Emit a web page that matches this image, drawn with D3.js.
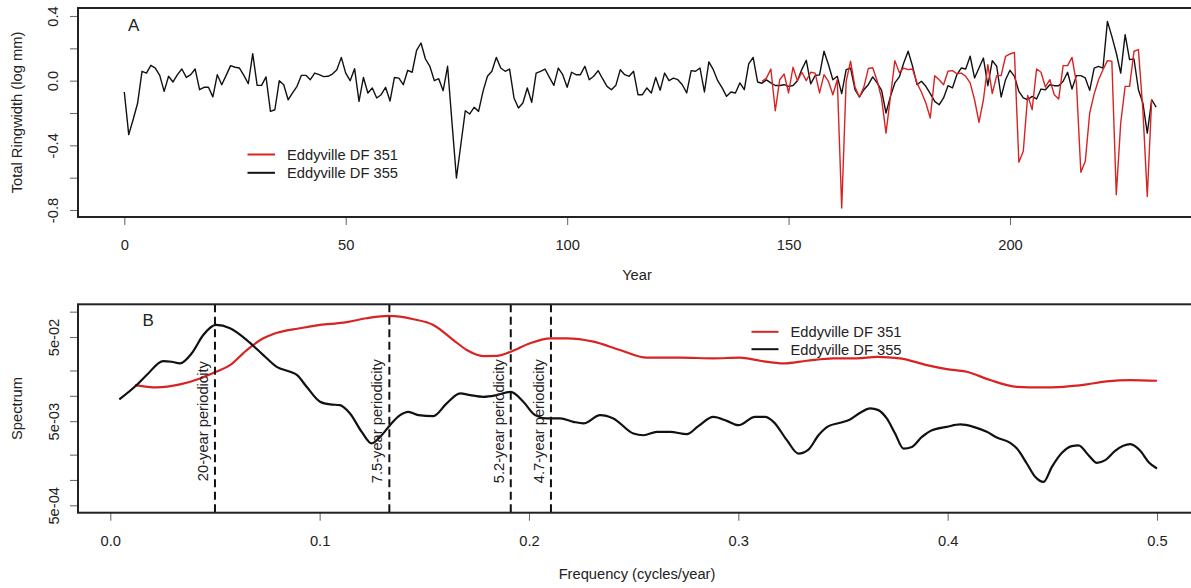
<!DOCTYPE html>
<html>
<head>
<meta charset="utf-8">
<script src="https://cdn.jsdelivr.net/npm/d3@7"></script>
<style>
  html, body { margin: 0; padding: 0; background: #fff; }
  svg text { font-family: "Liberation Sans", Arial, sans-serif; fill: #222; }
</style>
</head>
<body>
<svg id="chart" width="1191" height="588"></svg>
<script>
// ---- Panel A: total ring width (log mm) per year ----
const seriesNames = ["Eddyville DF 351", "Eddyville DF 355"];

// Eddyville DF 355, years 0..233
const ring355 = [
  -0.07, -0.334, -0.24, -0.14, 0.058, 0.047, 0.095, 0.078, 0.033, -0.066,
  0.027, -0.008, 0.037, 0.072, 0.02, 0.037, 0.072, -0.056, -0.041, -0.041,
  -0.10, 0.037, -0.025, 0.033, 0.093, 0.083, 0.078, 0.033, -0.019, 0.167,
  -0.029, -0.029, 0.023, -0.19, -0.18, 0.0, -0.025, -0.118, -0.076, -0.035,
  0.033, 0.033, 0.006, 0.047, 0.037, 0.025, 0.027, 0.041, 0.068, 0.144,
  0.047, 0.0, 0.074, -0.128, 0.02, -0.076, -0.045, -0.107, -0.087, -0.041,
  -0.126, 0.02, 0.016, -0.025, 0.064, 0.052, 0.188, 0.233, 0.134, 0.089,
  0.0, 0.012, -0.062, 0.089, -0.26, -0.602, -0.395, -0.186, -0.206, -0.165,
  -0.19, -0.066, 0.027, 0.058, 0.144, 0.078, 0.058, 0.072, -0.107, -0.169,
  -0.138, -0.045, -0.134, 0.047, 0.058, 0.072, 0.02, -0.029, 0.078, 0.037,
  -0.041, 0.052, 0.037, 0.037, 0.089, 0.006, 0.027, 0.062, 0.012, -0.035,
  -0.056, -0.029, 0.068, 0.037, 0.027, 0.058, -0.087, -0.087, -0.045, -0.076,
  0.02, -0.059, 0.047, 0.0, 0.016, 0.006, -0.025, -0.076, 0.062, 0.058,
  0.078, -0.07, 0.116, 0.068, 0.0, -0.045, -0.097, -0.07, -0.076, -0.014,
  -0.056, 0.104, 0.144, -0.008, -0.016, 0.005, -0.014, -0.03, -0.03, -0.025,
  -0.035, -0.03, 0.0, 0.07, 0.126, -0.02, 0.032, 0.036, 0.182, 0.1,
  0.006, 0.027, -0.08, 0.068, 0.078, -0.056, -0.101, -0.056, -0.025, 0.023,
  -0.014, -0.06, -0.2, -0.097, -0.014, 0.023, 0.109, 0.182, 0.089, -0.025,
  -0.004, -0.035, -0.08, -0.128, -0.149, -0.107, -0.031, -0.045, 0.037, 0.078,
  0.072, 0.151, 0.017, 0.078, 0.14, -0.031, 0.124, 0.089, -0.101, 0.006,
  0.064, 0.027, -0.066, -0.107, -0.118, -0.097, -0.113, -0.052, -0.056, -0.025,
  -0.031, -0.031, -0.004, 0.052, -0.052, 0.031, 0.031, 0.017, -0.06, 0.078,
  0.089, 0.078, 0.367, 0.274, 0.171, 0.047, 0.285, 0.13, 0.134, -0.056,
  -0.138, -0.324, -0.118, -0.163
];
const ring355Start = 0;

// Eddyville DF 351, years 144..232
const ring351 = [
  -0.004, 0.016, 0.072, -0.186, 0.006, 0.041, -0.076, 0.083, 0.0, 0.052,
  0.0, 0.052, 0.047, -0.076, 0.037, -0.004, -0.087, 0.006, -0.788, -0.004,
  0.12, -0.039, -0.102, -0.04, 0.075, 0.08, 0.0, -0.11, -0.324, -0.1,
  0.124, 0.05, 0.078, 0.068, 0.072, -0.014, -0.072, -0.138, -0.231, 0.031,
  0.006, -0.025, 0.058, 0.062, 0.043, 0.047, 0.027, -0.014, -0.118, -0.258,
  -0.118, 0.099, -0.08, 0.031, 0.031, 0.151, 0.165, 0.175, -0.505, -0.437,
  -0.091, -0.179, 0.072, 0.052, -0.039, 0.006, -0.087, -0.113, 0.093, 0.093,
  0.144, -0.014, -0.567, -0.499, -0.2, -0.083, 0.006, 0.068, 0.124, 0.12,
  -0.705, -0.262, -0.035, -0.035, 0.182, 0.192, -0.179, -0.716, -0.113
];
const ring351Start = 144;

const yearTicks = [0, 50, 100, 150, 200];
const ringTicks = [-0.8, -0.6, -0.4, -0.2, 0.0, 0.2, 0.4];
const ringLabelled = [-0.8, -0.4, 0.0, 0.4];

// ---- Panel B: smoothed spectra, [frequency, spectrum] ----
const spec355 = [
  [0.0043, 0.00906], [0.0126, 0.01343], [0.0174, 0.01766], [0.0253, 0.0259], [0.0293, 0.0254],
  [0.0333, 0.0243], [0.0389, 0.032], [0.0444, 0.0528], [0.0505, 0.0695], [0.0572, 0.0635],
  [0.0652, 0.046], [0.0731, 0.0305], [0.0795, 0.0221], [0.0859, 0.0193], [0.0891, 0.0177],
  [0.0938, 0.0128], [0.1002, 0.0085], [0.105, 0.0079], [0.1097, 0.00776], [0.1145, 0.00617],
  [0.1201, 0.00373], [0.1249, 0.00272], [0.1289, 0.00325], [0.1336, 0.00448], [0.1384, 0.00589],
  [0.1424, 0.00646], [0.1472, 0.00589], [0.1543, 0.00574], [0.1607, 0.00813], [0.1671, 0.0107],
  [0.1719, 0.0102], [0.1782, 0.00973], [0.1846, 0.0102], [0.1913, 0.01117], [0.1973, 0.0085],
  [0.2029, 0.00589], [0.2085, 0.00538], [0.2149, 0.00538], [0.2212, 0.00491], [0.226, 0.0047],
  [0.234, 0.00589], [0.2403, 0.00538], [0.2499, 0.00356], [0.2547, 0.0034], [0.2611, 0.00373],
  [0.2674, 0.00373], [0.2754, 0.0035], [0.2809, 0.00436], [0.2881, 0.00562], [0.2945, 0.00504],
  [0.3, 0.00448], [0.308, 0.00562], [0.3128, 0.00562], [0.3168, 0.00491], [0.3232, 0.00297],
  [0.3287, 0.00206], [0.3335, 0.0023], [0.3383, 0.0034], [0.3431, 0.00436], [0.3486, 0.00478],
  [0.3534, 0.00524], [0.3582, 0.00628], [0.363, 0.00709], [0.3669, 0.00676], [0.3709, 0.00538],
  [0.3749, 0.00356], [0.3789, 0.00236], [0.3829, 0.00247], [0.3877, 0.00325], [0.3925, 0.00391],
  [0.3996, 0.00428], [0.406, 0.00457], [0.4123, 0.00428], [0.4187, 0.00373], [0.4235, 0.0032],
  [0.4299, 0.00276], [0.4331, 0.00236], [0.4378, 0.00157], [0.4418, 0.00109], [0.4458, 0.000947],
  [0.4498, 0.00143], [0.4546, 0.0021], [0.4593, 0.00252], [0.4625, 0.00257], [0.4673, 0.00197],
  [0.4713, 0.0016], [0.4753, 0.00172], [0.48, 0.00222], [0.4872, 0.00266], [0.492, 0.00222],
  [0.4959, 0.00164], [0.5, 0.00137]
];

const spec351 = [
  [0.0118, 0.01343], [0.0222, 0.0126], [0.0333, 0.01367], [0.0429, 0.0161], [0.0505, 0.0193],
  [0.0572, 0.0232], [0.0652, 0.035], [0.0731, 0.0482], [0.0779, 0.0543], [0.0906, 0.0635],
  [0.1002, 0.0695], [0.1113, 0.074], [0.1225, 0.0835], [0.1332, 0.0889], [0.1448, 0.0813],
  [0.1543, 0.0695], [0.1639, 0.046], [0.1703, 0.035], [0.1782, 0.0297], [0.1846, 0.0298],
  [0.1913, 0.0334], [0.2005, 0.0421], [0.2104, 0.0482], [0.218, 0.0482], [0.2308, 0.044],
  [0.2435, 0.035], [0.2563, 0.0284], [0.2722, 0.0284], [0.2881, 0.0279], [0.3009, 0.0284],
  [0.3104, 0.0261], [0.3216, 0.0243], [0.3327, 0.0261], [0.3454, 0.0279], [0.3566, 0.0279],
  [0.3662, 0.0291], [0.3773, 0.0279], [0.39, 0.0232], [0.3996, 0.0208], [0.4092, 0.0193],
  [0.4203, 0.0154], [0.4331, 0.0128], [0.4442, 0.0126], [0.4553, 0.0128], [0.4665, 0.01367],
  [0.476, 0.01485], [0.4872, 0.0154], [0.5, 0.0151]
];

// marked periodicities (frequency in cycles/year, label)
const periodFreqs = [0.05, 0.1333, 0.1913, 0.2105];
const periodLabels = ["20-year periodicity", "7.5-year periodicity", "5.2-year periodicity", "4.7-year periodicity"];

const freqTicks = [0.0, 0.1, 0.2, 0.3, 0.4, 0.5];
const specTicks = [1e-1, 5e-2, 2e-2, 1e-2, 5e-3, 2e-3, 1e-3, 5e-4];
const specLabels = { "0.05": "5e-02", "0.005": "5e-03", "0.0005": "5e-04" };

const colors = { s351: "#d82323", s355: "#111111" };

// ---- drawing ----
const svg = d3.select("#chart");
const FONT = 14.7;

function styleAxis(g) {
  g.select(".domain").remove();
  g.selectAll(".tick line").attr("stroke", "#6e6e6e").attr("stroke-width", 1.1);
  g.selectAll(".tick text").attr("font-size", FONT).attr("fill", "#222")
    .attr("font-family", "'Liberation Sans', Arial, sans-serif");
}

// Panel A geometry
const A = { left: 78, right: 1197, top: 8, bottom: 217 };
const xA = d3.scaleLinear().domain([0, 200]).range([124.3, 1010]);
const yA = d3.scaleLinear().domain([-0.8, 0.4]).range([210, 16]);

const gA = svg.append("g");
gA.append("g")
  .attr("transform", `translate(0,${A.bottom})`)
  .call(d3.axisBottom(xA).tickValues(yearTicks).tickSize(8).tickPadding(14.6).tickFormat(d3.format("d")))
  .call(styleAxis);

gA.append("g")
  .attr("transform", `translate(${A.left},0)`)
  .call(d3.axisLeft(yA).tickValues(ringTicks).tickSize(8)
    .tickFormat(d => ringLabelled.some(v => Math.abs(v - d) < 1e-9) ? d.toFixed(1) : ""))
  .call(styleAxis)
  .call(g => g.selectAll(".tick text")
    .attr("x", null).attr("dy", null).attr("y", null)
    .attr("text-anchor", "middle")
    .attr("transform", "translate(-20.5,0) rotate(-90)"));

const lineA = d3.line().x(d => xA(d[0])).y(d => yA(d[1]));
const pts355 = ring355.map((v, i) => [ring355Start + i, v]);
const pts351 = ring351.map((v, i) => [ring351Start + i, v]);

gA.append("path").datum(pts355).attr("d", lineA)
  .attr("fill", "none").attr("stroke", colors.s355).attr("stroke-width", 1.4).attr("stroke-linejoin", "round");
gA.append("path").datum(pts351).attr("d", lineA)
  .attr("fill", "none").attr("stroke", colors.s351).attr("stroke-width", 1.4).attr("stroke-linejoin", "round");

gA.append("rect").attr("x", A.left).attr("y", A.top)
  .attr("width", A.right - A.left).attr("height", A.bottom - A.top)
  .attr("fill", "none").attr("stroke", "#222").attr("stroke-width", 2);

gA.append("text").attr("x", 128).attr("y", 30.8).attr("font-size", 17).text("A");

// legend A
const legA = [{ name: seriesNames[0], c: colors.s351, y: 154.5 }, { name: seriesNames[1], c: colors.s355, y: 172.8 }];
legA.forEach(d => {
  gA.append("line").attr("x1", 247.5).attr("x2", 275).attr("y1", d.y).attr("y2", d.y)
    .attr("stroke", d.c).attr("stroke-width", 2);
  gA.append("text").attr("x", 287).attr("y", d.y + 5.6).attr("font-size", FONT).text(d.name);
});

gA.append("text").attr("x", 637).attr("y", 280).attr("text-anchor", "middle").attr("font-size", FONT).text("Year");
gA.append("text").attr("transform", `translate(22,${(A.top + A.bottom) / 2}) rotate(-90)`)
  .attr("text-anchor", "middle").attr("font-size", FONT).text("Total Ringwidth (log mm)");

// Panel B geometry
const B = { left: 78, right: 1197, top: 304.3, bottom: 512.7 };
const xB = d3.scaleLinear().domain([0, 0.5]).range([110.3, 1157]);
const yB = d3.scaleLog().domain([5e-4, 0.05]).range([505.3, 337]);

const gB = svg.append("g");
gB.append("g")
  .attr("transform", `translate(0,${B.bottom})`)
  .call(d3.axisBottom(xB).tickValues(freqTicks).tickSize(8).tickPadding(14.6).tickFormat(d3.format(".1f")))
  .call(styleAxis);

gB.append("g")
  .attr("transform", `translate(${B.left},0)`)
  .call(d3.axisLeft(yB).tickValues(specTicks).tickSize(8)
    .tickFormat(d => specLabels[String(+d.toPrecision(3))] || ""))
  .call(styleAxis)
  .call(g => g.selectAll(".tick text")
    .attr("x", null).attr("dy", null).attr("y", null)
    .attr("text-anchor", "middle")
    .attr("transform", "translate(-19.5,0) rotate(-90)"));

const lineB = d3.line().x(d => xB(d[0])).y(d => yB(d[1])).curve(d3.curveMonotoneX);
gB.append("path").datum(spec351).attr("d", lineB)
  .attr("fill", "none").attr("stroke", colors.s351).attr("stroke-width", 2.2).attr("stroke-linejoin", "round");
gB.append("path").datum(spec355).attr("d", lineB)
  .attr("fill", "none").attr("stroke", colors.s355).attr("stroke-width", 2.2).attr("stroke-linejoin", "round");

// periodicity markers
periodFreqs.forEach((f, i) => {
  const x = xB(f);
  gB.append("line").attr("x1", x).attr("x2", x).attr("y1", B.top).attr("y2", B.bottom)
    .attr("stroke", "#111").attr("stroke-width", 2).attr("stroke-dasharray", "8,4.5");
  gB.append("text").attr("transform", `translate(${x - 7},${yB(0.005)}) rotate(-90)`)
    .attr("text-anchor", "middle").attr("font-size", FONT).text(periodLabels[i]);
});

gB.append("rect").attr("x", B.left).attr("y", B.top)
  .attr("width", B.right - B.left).attr("height", B.bottom - B.top)
  .attr("fill", "none").attr("stroke", "#222").attr("stroke-width", 2);

gB.append("text").attr("x", 142.5).attr("y", 326.2).attr("font-size", 17).text("B");

// legend B
const legB = [{ name: seriesNames[0], c: colors.s351, y: 331.8 }, { name: seriesNames[1], c: colors.s355, y: 349.2 }];
legB.forEach(d => {
  gB.append("line").attr("x1", 751.5).attr("x2", 778.5).attr("y1", d.y).attr("y2", d.y)
    .attr("stroke", d.c).attr("stroke-width", 2);
  gB.append("text").attr("x", 790.5).attr("y", d.y + 5.6).attr("font-size", FONT).text(d.name);
});

gB.append("text").attr("x", 637).attr("y", 579).attr("text-anchor", "middle").attr("font-size", FONT).text("Frequency (cycles/year)");
gB.append("text").attr("transform", `translate(21.5,${(B.top + B.bottom) / 2}) rotate(-90)`)
  .attr("text-anchor", "middle").attr("font-size", FONT).text("Spectrum");
</script>
</body>
</html>
